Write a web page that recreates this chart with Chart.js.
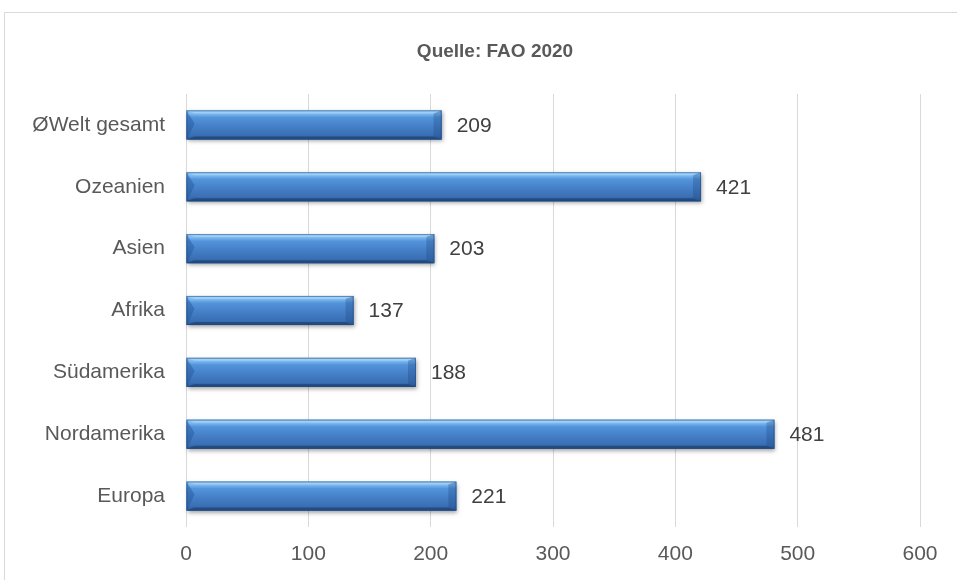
<!DOCTYPE html>
<html>
<head>
<meta charset="utf-8">
<script src="https://cdn.jsdelivr.net/npm/chart.js@4/dist/chart.umd.min.js"></script>
<style>
  html, body { margin: 0; padding: 0; background: #ffffff; }
  #wrap { width: 957px; height: 580px; position: relative; }
</style>
</head>
<body>
<div id="wrap"><canvas id="c" width="957" height="580"></canvas></div>
<script>
const categories = ["ØWelt gesamt", "Ozeanien", "Asien", "Afrika", "Südamerika", "Nordamerika", "Europa"];
const values = [209, 421, 203, 137, 188, 481, 221];
const xTicks = [0, 100, 200, 300, 400, 500, 600];
const titleText = "Quelle: FAO 2020";

const FONT = "'Liberation Sans', Arial, sans-serif";
const TXT = "#595959";

const framePlugin = {
  id: "frame",
  beforeDraw(chart) {
    const ctx = chart.ctx;
    ctx.save();
    ctx.fillStyle = "#ffffff";
    ctx.fillRect(0, 0, chart.width, chart.height);
    ctx.strokeStyle = "#d9d9d9";
    ctx.lineWidth = 1;
    ctx.strokeRect(4.5, 12.5, 2000, 2000);
    ctx.fillStyle = TXT;
    ctx.font = "bold 19px " + FONT;
    ctx.textAlign = "center";
    ctx.textBaseline = "middle";
    ctx.fillText(titleText, 495, 52);
    ctx.restore();
  }
};

const bevelPlugin = {
  id: "bevel",
  afterDatasetsDraw(chart) {
    const ctx = chart.ctx;
    const meta = chart.getDatasetMeta(0);
    ctx.save();
    meta.data.forEach((el, i) => {
      const p = el.getProps(["x", "y", "base", "height"], true);
      const l = Math.min(p.base, p.x), r = Math.max(p.base, p.x);
      const t = p.y - p.height / 2, b = p.y + p.height / 2;
      const w = r - l, h = b - t;
      // shadow
      ctx.save();
      ctx.shadowColor = "rgba(0,0,0,0.35)";
      ctx.shadowBlur = 4;
      ctx.shadowOffsetY = 2;
      ctx.shadowOffsetX = 1;
      ctx.fillStyle = "#3d75b9";
      ctx.fillRect(l, t, w, h);
      ctx.restore();
      // main gradient
      const g = ctx.createLinearGradient(0, t, 0, b);
      g.addColorStop(0, "#8ec8f5");
      g.addColorStop(0.12, "#7cb8ee");
      g.addColorStop(0.24, "#5394db");
      g.addColorStop(0.55, "#447fc7");
      g.addColorStop(0.85, "#3a6fb3");
      g.addColorStop(1, "#2c5a96");
      ctx.fillStyle = g;
      ctx.fillRect(l, t, w, h);
      const bv = Math.min(8, w / 2);
      // top bevel (light)
      ctx.fillStyle = "rgba(175,218,250,0.6)";
      ctx.beginPath();
      ctx.moveTo(l, t); ctx.lineTo(r, t); ctx.lineTo(r - bv, t + 3); ctx.lineTo(l + bv, t + 3); ctx.closePath(); ctx.fill();
      // bottom bevel (dark)
      ctx.fillStyle = "rgba(25,60,110,0.6)";
      ctx.beginPath();
      ctx.moveTo(l, b); ctx.lineTo(r, b); ctx.lineTo(r - bv, b - 3); ctx.lineTo(l + bv, b - 3); ctx.closePath(); ctx.fill();
      // left bevel (darker triangle at top-left)
      ctx.fillStyle = "rgba(35,85,150,0.45)";
      ctx.beginPath();
      ctx.moveTo(l, t); ctx.lineTo(l + bv, t + h * 0.45); ctx.lineTo(l + 2, b - 3); ctx.lineTo(l, b); ctx.closePath(); ctx.fill();
      // right bevel
      ctx.fillStyle = "rgba(30,70,130,0.3)";
      ctx.beginPath();
      ctx.moveTo(r, t); ctx.lineTo(r - bv, t + 3); ctx.lineTo(r - bv, b - 3); ctx.lineTo(r, b); ctx.closePath(); ctx.fill();
      // outline
      ctx.strokeStyle = "rgba(35,75,130,0.55)";
      ctx.lineWidth = 1;
      ctx.strokeRect(l + 0.5, t + 0.5, w - 1, h - 1);
      // value label
      ctx.fillStyle = "#404040";
      ctx.font = "21px " + FONT;
      ctx.textAlign = "left";
      ctx.textBaseline = "middle";
      ctx.fillText(String(values[i]), r + 15, p.y + 1);
    });
    ctx.restore();
  }
};

new Chart(document.getElementById("c"), {
  type: "bar",
  data: {
    labels: categories,
    datasets: [{
      data: values,
      backgroundColor: "rgba(0,0,0,0)",
      borderWidth: 0,
      barPercentage: 0.47,
      categoryPercentage: 1.0
    }]
  },
  options: {
    indexAxis: "y",
    responsive: false,
    animation: false,
    devicePixelRatio: 1,
    layout: { padding: { top: 94, right: 37, left: 0, bottom: 0 } },
    plugins: {
      legend: { display: false },
      title: { display: false },
      tooltip: { enabled: false }
    },
    scales: {
      x: {
        min: 0, max: 600,
        afterBuildTicks(scale) { scale.ticks = xTicks.map(v => ({ value: v })); },
        afterFit(scale) { scale.height = 53; },
        grid: { color: "#d9d9d9", lineWidth: 1, drawTicks: false },
        border: { display: false },
        ticks: { color: TXT, font: { family: FONT, size: 21 }, padding: 15 }
      },
      y: {
        afterFit(scale) { scale.width = 186; },
        grid: { display: false, drawTicks: false },
        border: { display: false },
        ticks: { color: TXT, font: { family: FONT, size: 21 }, padding: 21 }
      }
    }
  },
  plugins: [framePlugin, bevelPlugin]
});
</script>
</body>
</html>
